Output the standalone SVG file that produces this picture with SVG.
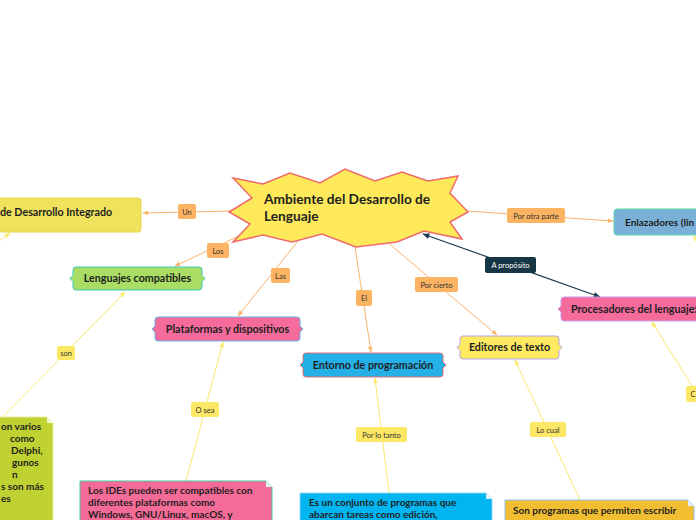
<svg xmlns="http://www.w3.org/2000/svg" width="696" height="520" viewBox="0 0 696 520">
<defs>
<style>
.n{font-family:Lato,"Open Sans","Liberation Sans",sans-serif;font-weight:bold;font-size:10.7px;fill:#1e1e1e}
.m{font-family:Lato,"Open Sans","Liberation Sans",sans-serif;font-weight:bold;font-size:10px;fill:#1e1e1e}
.t{font-family:Lato,"Open Sans","Liberation Sans",sans-serif;font-weight:bold;font-size:13.7px;fill:#1e1e1e}
.l{font-family:Lato,"Open Sans","Liberation Sans",sans-serif;font-size:7.5px;fill:#333;text-anchor:middle}
.lw{font-family:Lato,"Open Sans","Liberation Sans",sans-serif;font-size:7.5px;fill:#fff;text-anchor:middle}
.o{stroke:#fbb46a;stroke-width:1;fill:none}
.y{stroke:#fde96a;stroke-width:1;fill:none}
.d{stroke:#1f3f55;stroke-width:1.2;fill:none}
.lo{fill:#fcb462}
.ly{fill:#fde866}
</style>
<marker id="ao" viewBox="0 0 10 10" refX="9" refY="5" markerWidth="6" markerHeight="6" orient="auto"><path d="M0,1 L10,5 L0,9 Z" fill="#fbb46a"/></marker>
<marker id="ay" viewBox="0 0 10 10" refX="9" refY="5" markerWidth="6" markerHeight="6" orient="auto"><path d="M0,1 L10,5 L0,9 Z" fill="#fde96a"/></marker>
<marker id="ad" viewBox="0 0 10 10" refX="9" refY="5" markerWidth="6" markerHeight="6" orient="auto"><path d="M0,1 L10,5 L0,9 Z" fill="#1f3f55"/></marker>
<marker id="ads" viewBox="0 0 10 10" refX="1" refY="5" markerWidth="6" markerHeight="6" orient="auto"><path d="M10,1 L0,5 L10,9 Z" fill="#1f3f55"/></marker>
</defs>
<rect width="696" height="520" fill="#ffffff"/>

<g id="connectors">
<line class="o" x1="233" y1="211" x2="143" y2="213" marker-end="url(#ao)"/>
<line class="o" x1="243" y1="234" x2="175" y2="266" marker-end="url(#ao)"/>
<line class="o" x1="302" y1="236" x2="238" y2="316" marker-end="url(#ao)"/>
<line class="o" x1="355" y1="247" x2="371" y2="352" marker-end="url(#ao)"/>
<line class="o" x1="380" y1="236" x2="497" y2="335" marker-end="url(#ao)"/>
<line class="o" x1="466" y1="211" x2="613" y2="221" marker-end="url(#ao)"/>
<line class="d" x1="423" y1="234" x2="600" y2="297" marker-start="url(#ads)" marker-end="url(#ad)"/>
<line class="y" x1="3" y1="417" x2="125" y2="292" marker-end="url(#ay)"/>
<line class="y" x1="186" y1="481" x2="223" y2="342" marker-end="url(#ay)"/>
<line class="y" x1="389" y1="493" x2="375" y2="378" marker-end="url(#ay)"/>
<line class="y" x1="580" y1="500" x2="515" y2="360" marker-end="url(#ay)"/>
<line class="y" x1="692" y1="386" x2="652" y2="322" marker-end="url(#ay)"/>
<line class="y" x1="705" y1="248" x2="693" y2="236" marker-end="url(#ay)"/>
<line class="y" x1="-5" y1="244" x2="10" y2="233" marker-end="url(#ay)"/>

<rect class="lo" x="178" y="204" width="18" height="15" rx="2"/><text class="l" x="187" y="214.5">Un</text>
<rect class="lo" x="207" y="243" width="22" height="15" rx="2"/><text class="l" x="218" y="253.5">Los</text>
<rect class="lo" x="271" y="268" width="19" height="15" rx="2"/><text class="l" x="280.5" y="278.5">Las</text>
<rect class="lo" x="356" y="290" width="16" height="16" rx="2"/><text class="l" x="364" y="300.5">El</text>
<rect class="lo" x="415" y="277" width="43" height="15" rx="2"/><text class="l" x="436.5" y="287.5">Por cierto</text>
<rect class="lo" x="507" y="208" width="58" height="15" rx="2"/><text class="l" x="536" y="218.5">Por otra parte</text>
<rect x="485" y="257" width="51" height="16" rx="2" fill="#173645"/><text class="lw" x="510.5" y="267.5">A propósito</text>
<rect class="ly" x="57" y="346" width="18" height="14" rx="2"/><text class="l" x="66" y="356">son</text>
<rect class="ly" x="191" y="402" width="28" height="15" rx="2"/><text class="l" x="205" y="412.5">O sea</text>
<rect class="ly" x="356" y="427" width="51" height="15" rx="2"/><text class="l" x="381.5" y="437.5">Por lo tanto</text>
<rect class="ly" x="530" y="422" width="36" height="15" rx="2"/><text class="l" x="548" y="432.5">Lo cual</text>
<rect class="ly" x="686" y="386" width="20" height="16" rx="2"/><text class="l" x="693" y="396.5">C</text>
</g>

<g id="central">
<path d="M233,178 L263,184 L290,173 L320,183 L345,169 L375,181 L402,172 L428,181 L458,176 L450,193 L468,212 L450,222 L462,239 L424,231 L397,242 L356,247 L322,234 L292,242 L263,235 L233,242 L250,224 L229,212 L252,198 Z" fill="#fde95a" stroke="#f06a6a" stroke-width="1.5" stroke-linejoin="miter"/>
<text class="t" x="264" y="204">Ambiente del Desarrollo de</text>
<text class="t" x="264" y="221">Lenguaje</text>
</g>

<g id="ide">
<rect x="-6" y="198" width="147" height="34" rx="3" fill="#efe25c" stroke="#e6d64c"/>
<text class="n" x="0" y="216">de Desarrollo Integrado</text>
</g>

<g id="lenguajes">
<path d="M76,267 H199 Q202,267 202,270 V275.5 L205,278.5 L202,281.5 V287 Q202,290 199,290 H76 Q73,290 73,287 V281.5 L70,278.5 L73,275.5 V270 Q73,267 76,267 Z" fill="#a9dd64" stroke="#3cc9c0"/>
<text class="n" x="137.5" y="282" text-anchor="middle">Lenguajes compatibles</text>
</g>

<g id="nota-lenguajes">
<path d="M-5,417 H47 L53,423 V525 H-5 Z" fill="#bfd232" stroke="#e8ec9a"/>
<path d="M47,417 V423 H53 Z" fill="#f4f6d0"/>
<text class="m" x="1" y="430">on varios</text>
<text class="m" x="10" y="442">como</text>
<text class="m" x="11" y="454">Delphi,</text>
<text class="m" x="12" y="466">gunos</text>
<text class="m" x="12" y="478">n</text>
<text class="m" x="1" y="490">s son más</text>
<text class="m" x="1" y="502">es</text>
</g>

<g id="plataformas">
<path d="M158,317 H297 Q300,317 300,320 V326 L303,329 L300,332 V338 Q300,341 297,341 H158 Q155,341 155,338 V332 L152,329 L155,326 V320 Q155,317 158,317 Z" fill="#f46b9c" stroke="#68b4e8"/>
<text class="n" x="227.5" y="332.5" text-anchor="middle">Plataformas y dispositivos</text>
</g>

<g id="nota-plataformas">
<path d="M80,481 H266 L272,487 V525 H80 Z" fill="#f46b98" stroke="#3dcfa0"/>
<path d="M266,481 V487 H272 Z" fill="#e0f5ee"/>
<text class="m" x="88" y="494">Los IDEs pueden ser compatibles con</text>
<text class="m" x="88" y="506">diferentes plataformas como</text>
<text class="m" x="88" y="518">Windows, GNU/Linux, macOS, y</text>
</g>

<g id="entorno">
<path d="M306,353 H440 Q443,353 443,356 V362 L446,365 L443,368 V374 Q443,377 440,377 H306 Q303,377 303,374 V368 L300,365 L303,362 V356 Q303,353 306,353 Z" fill="#25b0e8" stroke="#e86f6f"/>
<text class="n" x="373" y="368.5" text-anchor="middle">Entorno de programación</text>
</g>

<g id="nota-entorno">
<path d="M300,493 H486 L492,499 V525 H300 Z" fill="#02b5f0" stroke="#8fd8f5"/>
<path d="M486,493 V499 H492 Z" fill="#e0f4fc"/>
<text class="m" x="309" y="506">Es un conjunto de programas que</text>
<text class="m" x="309" y="518">abarcan tareas como edición,</text>
</g>

<g id="editores">
<path d="M463,336 H556 Q559,336 559,339 V344.5 L562,347.5 L559,350.5 V356 Q559,359 556,359 H463 Q460,359 460,356 V350.5 L457,347.5 L460,344.5 V339 Q460,336 463,336 Z" fill="#fdea60" stroke="#b7a2e6"/>
<text class="n" x="509.5" y="351" text-anchor="middle">Editores de texto</text>
</g>

<g id="nota-editores">
<path d="M505,500 H688 L694,506 V525 H505 Z" fill="#f0be30" stroke="#8ac0f0"/>
<path d="M688,500 V506 H694 Z" fill="#e6f0fa"/>
<text class="m" x="513" y="514">Son programas que permiten escribir</text>
</g>

<g id="enlazadores">
<path d="M617,209 H705 V235 H617 Q614,235 614,232 V212 Q614,209 617,209 Z" fill="#7ab0d8" stroke="#5cd8b0"/>
<text class="m" x="625" y="225.5">Enlazadores (lin</text>
</g>

<g id="procesadores">
<path d="M564,297 H705 V321 H564 Q561,321 561,318 V312 L558,309 L561,306 V300 Q561,297 564,297 Z" fill="#f46b9c" stroke="#c8a0ea"/>
<text class="n" x="571" y="312.5">Procesadores del lenguaje:</text>
</g>
</svg>
